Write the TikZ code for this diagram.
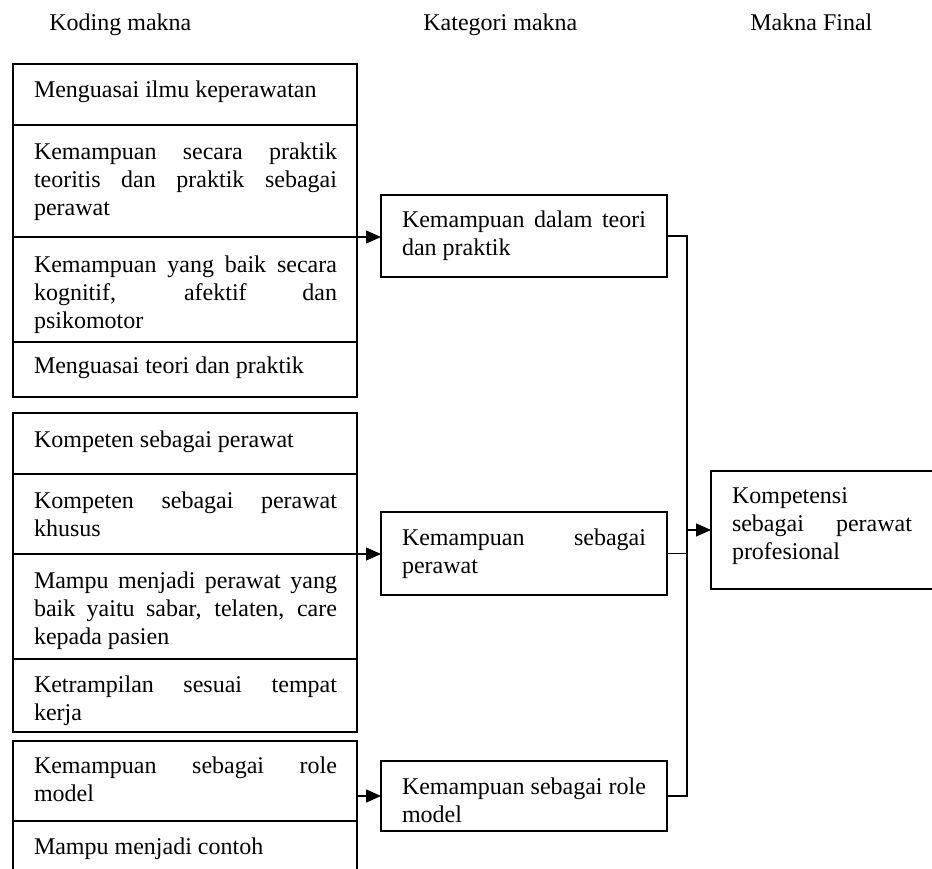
\documentclass[tikz,border=0pt]{standalone}
\usepackage{fontspec}
\setmainfont{Liberation Serif}
\usetikzlibrary{arrows.meta}
\newcommand\lftj[1]{\leavevmode\hbox to 151.5pt{\spaceskip=0.25em plus 1fil\relax #1}}
\newcommand\midj[1]{\leavevmode\hbox to 122pt{\spaceskip=0.25em plus 1fil\relax #1}}
\newcommand\finj[1]{\leavevmode\hbox to 90pt{\spaceskip=0.25em plus 1fil\relax #1}}
\newcommand\rsp{\spaceskip=0pt\xspaceskip=0pt\relax}
\begin{document}
\begin{tikzpicture}[x=0.5pt,y=-0.5pt,
  font=\fontsize{12}{14}\selectfont,
  cell/.style={draw, line width=0.8pt, anchor=north west, inner sep=0pt, outer sep=0pt, minimum width=172pt},
  mbox/.style={draw, line width=0.8pt, anchor=north west, inner sep=0pt, outer sep=0pt},
  txt/.style={anchor=north west, inner sep=0pt, outer sep=0pt, align=left},
  lt/.style={txt, text width=151.5pt},
  mt/.style={txt, text width=122pt},
  ft/.style={txt, text width=90pt},
  hdr/.style={anchor=base west, inner sep=0pt},
  conn/.style={line width=0.6pt},
  arr/.style={conn, -{Triangle[length=7.5pt,width=6.5pt]}}]
\clip (0,0) rectangle (932,868);

% headers
\node[hdr] (h1) at (49,30) {Koding makna};
\node[hdr] (h2) at (423,30) {Kategori makna};
\node[hdr] (h3) at (750,30) {Makna Final};

% group 1
\node[cell, minimum height=30.5pt] (c11) at (13,64) {};
\node[cell, minimum height=56pt]   (c12) at (13,125) {};
\node[cell, minimum height=52.5pt] (c13) at (13,237) {};
\node[cell, minimum height=27.5pt] (c14) at (13,342) {};
% group 2
\node[cell, minimum height=30.5pt] (c21) at (13,413) {};
\node[cell, minimum height=40pt]   (c22) at (13,474) {};
\node[cell, minimum height=52.5pt] (c23) at (13,554) {};
\node[cell, minimum height=36.5pt] (c24) at (13,659) {};
% group 3
\node[cell, minimum height=40pt]   (c31) at (13,741) {};
\node[cell, minimum height=35pt]   (c32) at (13,821) {};

% texts left
\node[lt] (t11) at (34,77.4) {\rsp\strut Menguasai ilmu keperawatan};
\node[lt] (t12) at (34,139.4) {\rsp\strut\lftj{Kemampuan secara praktik}\\ \lftj{teoritis dan praktik sebagai}\\ perawat};
\node[lt] (t13) at (34,252.4) {\rsp\strut\lftj{Kemampuan yang baik secara}\\ \lftj{kognitif, afektif dan}\\ psikomotor};
\node[lt] (t14) at (34,353.4) {\rsp\strut Menguasai teori dan praktik};
\node[lt] (t21) at (34,427.4) {\rsp\strut Kompeten sebagai perawat};
\node[lt] (t22) at (34,488.4) {\rsp\strut\lftj{Kompeten sebagai perawat}\\ khusus};
\node[lt] (t23) at (34,568.4) {\rsp\strut\lftj{Mampu menjadi perawat yang}\\ \lftj{baik yaitu sabar, telaten, care}\\ kepada pasien};
\node[lt] (t24) at (34,672.4) {\rsp\strut\lftj{Ketrampilan sesuai tempat}\\ kerja};
\node[lt] (t31) at (34,753.4) {\rsp\strut\lftj{Kemampuan sebagai role}\\ model};
\node[lt] (t32) at (34,834.4) {\rsp\strut Mampu menjadi contoh};

% middle boxes
\node[mbox, minimum width=143pt, minimum height=41pt]   (m1) at (381,195) {};
\node[mbox, minimum width=143pt, minimum height=41.5pt] (m2) at (381,512) {};
\node[mbox, minimum width=143pt, minimum height=35pt]   (m3) at (381,761) {};
\node[mt] (tm1) at (402,207.4) {\rsp\strut\midj{Kemampuan dalam teori}\\ dan praktik};
\node[mt] (tm2) at (402,525.4) {\rsp\strut\midj{Kemampuan sebagai}\\ perawat};
\node[mt] (tm3) at (402,774.4) {\rsp\strut\midj{Kemampuan sebagai role}\\ model};

% final box
\node[mbox, minimum width=115pt, minimum height=59pt] (fin) at (711,471) {};
\node[ft] (tf) at (732,483.4) {\rsp\strut Kompetensi\\ \finj{sebagai perawat}\\ profesional};

% connectors
\draw[arr] (c12.south east) -- (c12.south east -| m1.west);
\draw[arr] (c22.south east) -- (c22.south east -| m2.west);
\draw[arr] (m3.west -| c31.east) -- (m3.west);

\coordinate (bus) at (687,0);
\draw[conn] (m1.east) -- (m1.east -| bus) -- (m3.east -| bus) -- (m3.east);
\draw[conn] (m2.east) -- (m2.east -| bus);
\draw[arr] (fin.west -| bus) -- (fin.west);
\end{tikzpicture}
\end{document}
